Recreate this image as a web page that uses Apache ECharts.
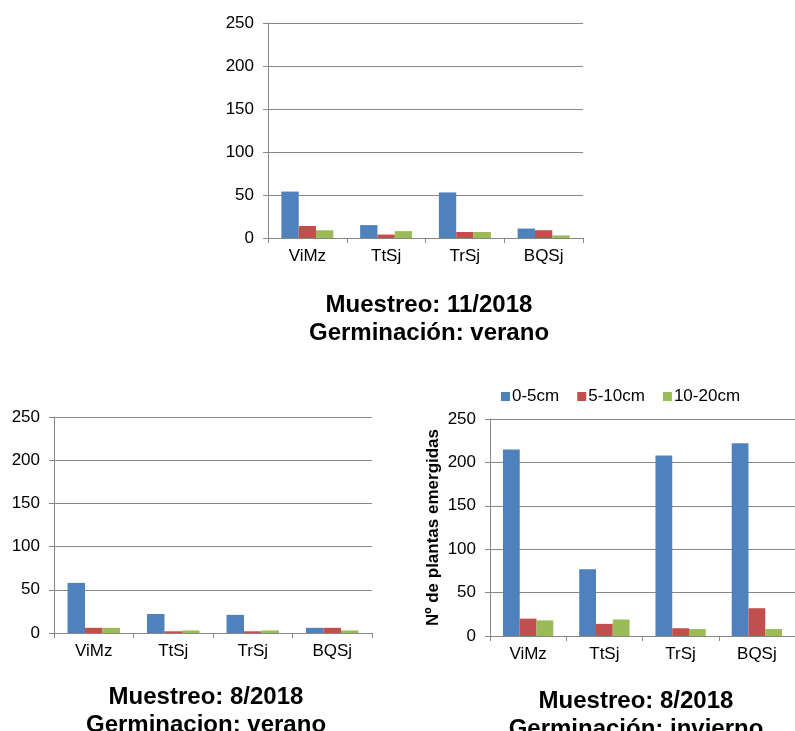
<!DOCTYPE html>
<html>
<head>
<meta charset="utf-8">
<script src="https://cdn.jsdelivr.net/npm/echarts@6/dist/echarts.min.js"></script>
<style>
html,body{margin:0;padding:0;background:#fff;}
#main{width:795px;height:731px;}
</style>
</head>
<body>
<div id="main"></div>
<script>
var categories=['ViMz','TtSj','TrSj','BQSj']
var seriesNames=['0-5cm','5-10cm','10-20cm']
var yTicks=[0,50,100,150,200,250]
// Muestreo 11/2018, germinación verano
var nov_verano_0_5=[54,15,53,11]
var nov_verano_5_10=[14,4,7,9]
var nov_verano_10_20=[9,8,7,3]
// Muestreo 8/2018, germinacion verano
var ago_verano_0_5=[58,22,21,6]
var ago_verano_5_10=[6,2,2,6]
var ago_verano_10_20=[6,3,3,3]
// Muestreo 8/2018, germinación invierno
var ago_invierno_0_5=[215,77,208,222]
var ago_invierno_5_10=[20,14,9,32]
var ago_invierno_10_20=[18,19,8,8]

var colors=['#4F81BD','#C0504D','#9BBB59']
var font='Liberation Sans, Arial, sans-serif'
var gray='#878787'

function xAx(g){
	return {
		type:'category',
		gridIndex:g,
		data:categories,
		axisLine:{lineStyle:{color:gray,width:1}},
		axisTick:{show:true,length:5,lineStyle:{color:gray}},
		axisLabel:{color:'#000',fontSize:17,fontFamily:font,margin:10}
	}
}
function yAx(g,name){
	var a={
		type:'value',
		gridIndex:g,
		min:yTicks[0],
		max:yTicks[yTicks.length-1],
		interval:50,
		axisLine:{show:true,lineStyle:{color:gray,width:1}},
		axisTick:{show:true,length:5,lineStyle:{color:gray}},
		splitLine:{lineStyle:{color:gray,width:1}},
		axisLabel:{color:'#000',fontSize:17,fontFamily:font,margin:14}
	}
	if(name){
		a.name=name
		a.nameLocation='middle'
		a.nameGap=48
		a.nameTextStyle={color:'#000',fontSize:17,fontWeight:'bold',fontFamily:font}
	}
	return a
}
function bar(name,g,data,c){
	return {
		name:name,
		type:'bar',
		xAxisIndex:g,
		yAxisIndex:g,
		barGap:'0%',
		barCategoryGap:'34%',
		itemStyle:{color:c},
		data:data
	}
}
function tit(text,x,y){
	return {
		text:text,
		left:x,
		top:y,
		textAlign:'center',
		textStyle:{color:'#000',fontSize:24,fontWeight:'bold',fontFamily:font,lineHeight:28}
	}
}

var mychart=echarts.init(document.getElementById('main'));
var option={
	animation:false,
	title:[
		tit('Muestreo: 11/2018\nGerminación: verano',424,286),
		tit('Muestreo: 8/2018\nGerminacion: verano',201,678),
		tit('Muestreo: 8/2018\nGerminación: invierno',631,682)
	],
	legend:{
		left:496,
		top:383,
		itemWidth:9,
		itemHeight:9,
		itemGap:18,
		icon:'rect',
		textStyle:{color:'#000',fontSize:17,fontFamily:font,padding:[0,0,0,-3]},
		data:seriesNames
	},
	grid:[
		{left:268,width:315,top:23,height:215},
		{left:54,width:318,top:417,height:216},
		{left:490,width:314,top:419,height:217}
	],
	xAxis:[xAx(0),xAx(1),xAx(2)],
	yAxis:[yAx(0),yAx(1),yAx(2,'Nº de plantas emergidas')],
	series:[
		bar(seriesNames[0],0,nov_verano_0_5,colors[0]),
		bar(seriesNames[1],0,nov_verano_5_10,colors[1]),
		bar(seriesNames[2],0,nov_verano_10_20,colors[2]),
		bar(seriesNames[0],1,ago_verano_0_5,colors[0]),
		bar(seriesNames[1],1,ago_verano_5_10,colors[1]),
		bar(seriesNames[2],1,ago_verano_10_20,colors[2]),
		bar(seriesNames[0],2,ago_invierno_0_5,colors[0]),
		bar(seriesNames[1],2,ago_invierno_5_10,colors[1]),
		bar(seriesNames[2],2,ago_invierno_10_20,colors[2])
	]
};
mychart.setOption(option);
</script>
</body>
</html>
